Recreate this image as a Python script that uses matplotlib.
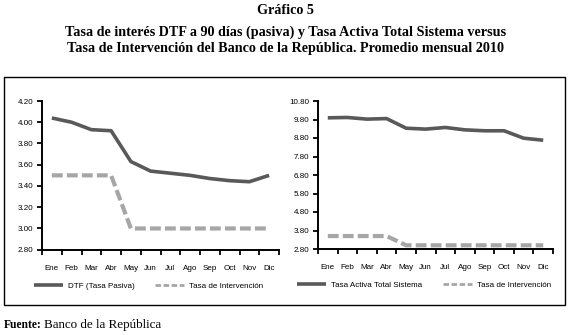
import matplotlib
matplotlib.use("Agg")

import matplotlib.pyplot as plt
from matplotlib.patches import Rectangle
from matplotlib.lines import Line2D

meses = ["Ene", "Feb", "Mar", "Abr", "May", "Jun", "Jul", "Ago", "Sep", "Oct", "Nov", "Dic"]
dtf = [4.04, 4.00, 3.93, 3.92, 3.63, 3.54, 3.52, 3.50, 3.47, 3.45, 3.44, 3.50]
activa = [9.89, 9.91, 9.82, 9.85, 9.33, 9.28, 9.37, 9.24, 9.19, 9.19, 8.79, 8.68]
intervencion = [3.5, 3.5, 3.5, 3.5, 3.0, 3.0, 3.0, 3.0, 3.0, 3.0, 3.0, 3.0]

left_ticks = [2.80, 3.00, 3.20, 3.40, 3.60, 3.80, 4.00, 4.20]
right_ticks = [2.80, 3.80, 4.80, 5.80, 6.80, 7.80, 8.80, 9.80, 10.80]

SOLID = "#595959"
DASH = "#a6a6a6"
TICK_FONT = "Liberation Sans"
SERIF = "Liberation Serif"

fig = plt.figure(figsize=(5.71, 3.35), dpi=100)

fig.text(0.5, 0.970, "Gráfico 5", ha="center", va="center",
         fontsize=10.2, fontweight="bold", family=SERIF)
fig.text(0.5, 0.904, "Tasa de interés DTF a 90 días (pasiva) y Tasa Activa Total Sistema versus",
         ha="center", va="center", fontsize=10.2, fontweight="bold", family=SERIF)
fig.text(0.5, 0.854, "Tasa de Intervención del Banco de la República. Promedio mensual 2010",
         ha="center", va="center", fontsize=10.2, fontweight="bold", family=SERIF)

# marco exterior
fig.patches.append(Rectangle((4 / 571, 1 - 305 / 335), 561 / 571, 228 / 335,
                             transform=fig.transFigure, fill=False,
                             edgecolor="black", linewidth=1.0))

fig.text(4 / 571, 1 - 325 / 335, "Fuente:", ha="left", va="center",
         fontsize=8.3, fontweight="bold", family=SERIF)
fig.text(44 / 571, 1 - 325 / 335, "Banco de la República", ha="left", va="center",
         fontsize=9.4, family=SERIF)


def panel(rect, serie, nombre, ticks):
    ax = fig.add_axes(rect)
    x = range(len(meses))
    ax.plot(x, serie, color=SOLID, linewidth=2.6, solid_capstyle="butt")
    ax.plot(x, intervencion, color=DASH, linewidth=3.0, dashes=(2.6, 1.0))
    ax.set_xlim(-0.5, len(meses) - 0.5)
    ax.set_ylim(ticks[0], ticks[-1])
    ax.set_yticks(ticks)
    ax.set_yticklabels([f"{t:.2f}" for t in ticks])
    ax.set_xticks(list(x))
    ax.set_xticklabels(meses)
    ax.set_xticks([i - 0.5 for i in range(len(meses) + 1)], minor=True)
    ax.tick_params(axis="x", which="major", length=0, pad=11, labelsize=5.8)
    ax.tick_params(axis="x", which="minor", length=3.5, width=1.3, direction="out")
    ax.tick_params(axis="y", length=3.5, width=1.3, direction="out", pad=3, labelsize=5.8)
    for lab in ax.get_xticklabels() + ax.get_yticklabels():
        lab.set_family(TICK_FONT)
    for s in ("top", "right"):
        ax.spines[s].set_visible(False)
    for s in ("left", "bottom"):
        ax.spines[s].set_linewidth(1.4)
    handles = [
        Line2D([], [], color=SOLID, linewidth=2.6, solid_capstyle="butt"),
        Line2D([], [], color=DASH, linewidth=2.0, dashes=(2.0, 0.9)),
    ]
    ax.legend(handles, [nombre, "Tasa de Intervención"], loc="upper center",
              bbox_to_anchor=(0.45, -0.17), ncol=2, frameon=False,
              handlelength=3.6, handletextpad=0.6, columnspacing=2.6,
              prop={"family": TICK_FONT, "size": 5.8})
    return ax


panel([42 / 571, 1 - 249.7 / 335, 237 / 571, 148.7 / 335], dtf, "DTF (Tasa Pasiva)", left_ticks)
panel([318 / 571, 1 - 249 / 335, 235 / 571, 148 / 335], activa, "Tasa Activa Total Sistema", right_ticks)

fig.savefig("out.png", dpi=100)
